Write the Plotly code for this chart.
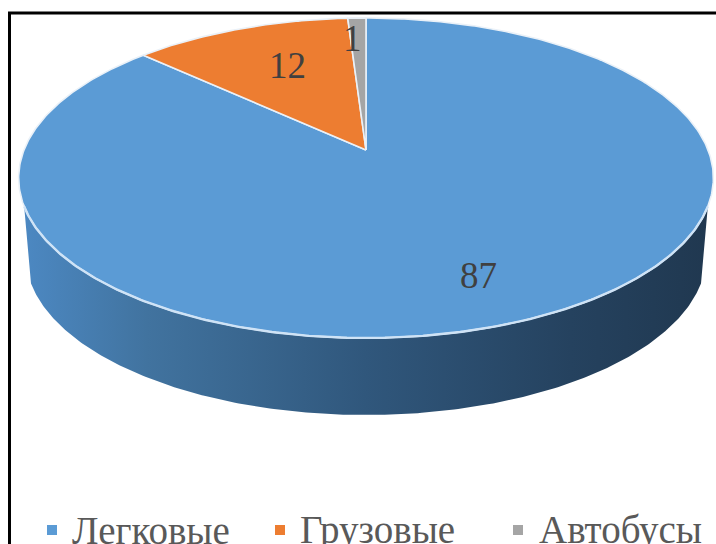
import numpy as np
import plotly.graph_objects as go

categories = ["Легковые", "Грузовые", "Автобусы"]
values = [87, 12, 1]
slice_colors = ["#5b9bd5", "#ed7d31", "#a5a5a5"]
wall_colors = [[0, "#4c88c2"], [0.18, "#41739f"], [0.5, "#30577c"], [0.8, "#25425f"], [1, "#203850"]]

CX, CY = 366, 150
A, B, K = 342, -128.85, 0.175
DEPTH = 77
SHRINK = 0.98


def rim(theta):
    """Project a pie angle (clockwise from the top) onto the tilted disc."""
    u, v = np.sin(theta), np.cos(theta)
    d = 1 + K * v
    return CX + A * u / d, (CY + B * v) / d


fig = go.Figure()

# side wall
th = np.linspace(np.radians(110), np.radians(250), 240)
xt, yt = rim(th)
xb = CX + (xt - CX) * SHRINK
yb = yt + DEPTH
fig.add_trace(go.Scatter(
    x=np.r_[xt, xb[::-1]], y=np.r_[yt, yb[::-1]], mode="lines", line=dict(width=0),
    fill="toself", fillgradient=dict(type="horizontal", colorscale=wall_colors),
    hoverinfo="skip", showlegend=False))

# top face
edges = np.r_[0, np.cumsum(values)] / np.sum(values) * 2 * np.pi
for i, name in enumerate(categories):
    t = np.linspace(edges[i], edges[i + 1], max(3, int((edges[i + 1] - edges[i]) * 90)))
    x, y = rim(t)
    fig.add_trace(go.Scatter(
        x=np.r_[CX, x, CX], y=np.r_[CY, y, CY], mode="lines",
        line=dict(color="#eaf1f8", width=1.6), fill="toself", fillcolor=slice_colors[i],
        name=name, hoverinfo="skip", showlegend=False))

# bright rim above the wall
xr, yr = rim(th)
fig.add_trace(go.Scatter(x=xr, y=yr, mode="lines", line=dict(color="#cfe3f6", width=2.4),
                         hoverinfo="skip", showlegend=False))

# legend
legend_marker_x = [52, 280, 518]
legend_text_x = [70, 298, 537]
for i, name in enumerate(categories):
    fig.add_trace(go.Scatter(x=[legend_marker_x[i]], y=[530], mode="markers",
                             marker=dict(symbol="square", size=10, color=slice_colors[i]),
                             hoverinfo="skip", showlegend=False))
    fig.add_annotation(x=legend_text_x[i], y=530, text=name, xanchor="left", yanchor="middle",
                       showarrow=False, font=dict(family="Liberation Serif", size=39, color="#595959"))

# value labels
label_x = [478, 287, 352]
label_y = [275, 65, 38]
for i, v in enumerate(values):
    fig.add_annotation(x=label_x[i], y=label_y[i], text=str(v), showarrow=False,
                       font=dict(family="Liberation Serif", size=37, color="#404040"))

fig.update_layout(
    width=716, height=544, margin=dict(l=0, r=0, t=0, b=0),
    paper_bgcolor="white", plot_bgcolor="white", showlegend=False,
    xaxis=dict(range=[0, 716], visible=False, fixedrange=True),
    yaxis=dict(range=[544, 0], visible=False, fixedrange=True),
    shapes=[dict(type="path", path="M 9.5 544 L 9.5 13 L 716 13", xref="x", yref="y",
                 line=dict(color="black", width=3))],
)
fig.write_html("out.html", config={"displayModeBar": False},
               post_script="document.body.style.margin='0';")
